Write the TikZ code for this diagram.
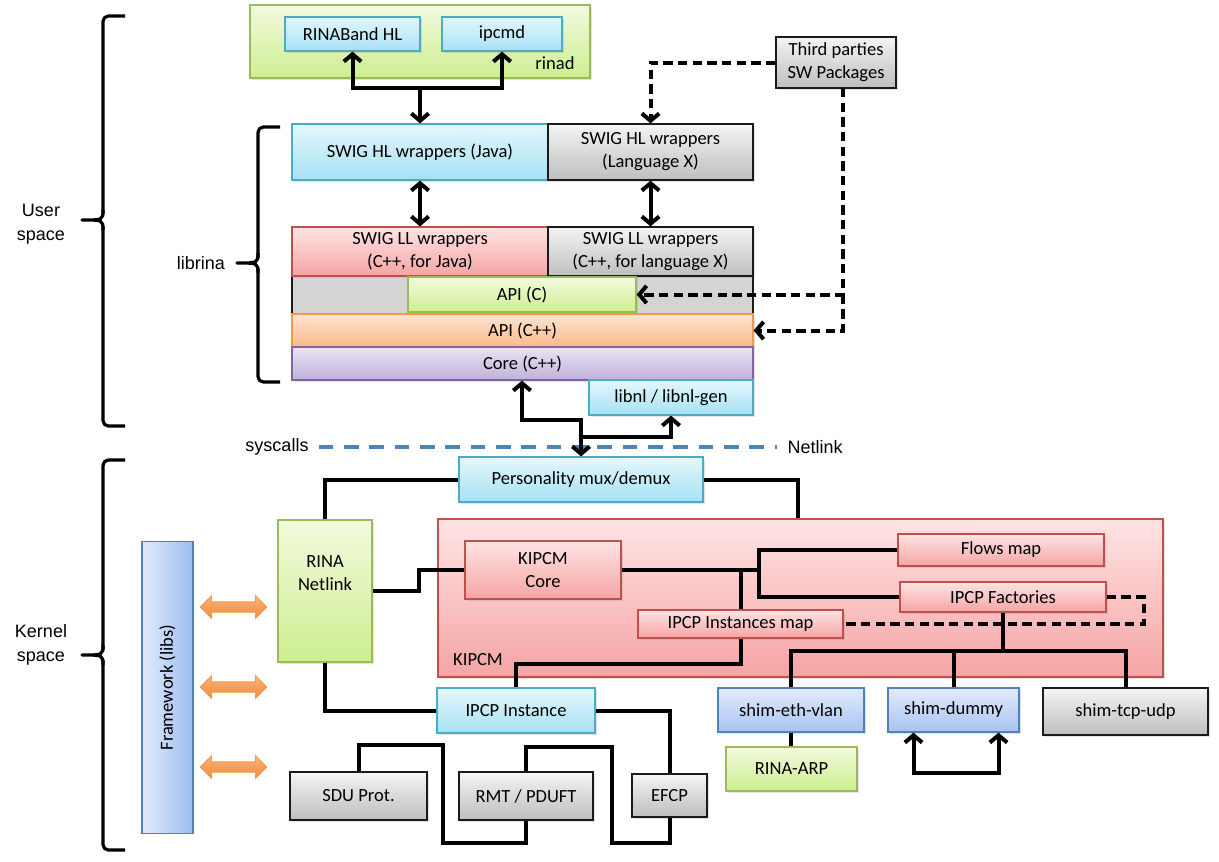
\documentclass[tikz,border=0pt]{standalone}
\usepackage{fontspec}
\setmainfont{Carlito}
\newfontfamily\arialf{Liberation Sans}
\usetikzlibrary{arrows.meta,shadows,shapes.arrows}
\definecolor{cyanT}{HTML}{E4F7FD}
\definecolor{cyanB}{HTML}{A6E1F4}
\definecolor{cyanD}{HTML}{4BACC6}
\definecolor{greenT}{HTML}{F2FADE}
\definecolor{greenB}{HTML}{CEEE90}
\definecolor{greenD}{HTML}{9BBB59}
\definecolor{grayT}{HTML}{F4F4F4}
\definecolor{grayB}{HTML}{BEBEBE}
\definecolor{grayD}{HTML}{1A1A1A}
\definecolor{redT}{HTML}{FFE4E4}
\definecolor{redB}{HTML}{F5A4A4}
\definecolor{redD}{HTML}{C0504D}
\definecolor{oraT}{HTML}{FDE5D2}
\definecolor{oraB}{HTML}{FAB98A}
\definecolor{oraD}{HTML}{F79646}
\definecolor{oraF1}{HTML}{FAB47A}
\definecolor{oraF2}{HTML}{F38A3C}
\definecolor{purT}{HTML}{E9E3F2}
\definecolor{purB}{HTML}{C0B2DB}
\definecolor{purD}{HTML}{8064A2}
\definecolor{bluT}{HTML}{E2EBFC}
\definecolor{bluB}{HTML}{A8C3F1}
\definecolor{bluF}{HTML}{9DBBF2}
\definecolor{bluD}{HTML}{4F81BD}
\definecolor{rowG}{HTML}{D4D4D4}
\newcommand\boxfont{\fontsize{13.9}{17.3}\selectfont}
\newcommand\sidefont{\arialf\fontsize{13.5}{18}\selectfont}
\newcommand\bx[7]{\node[#6, minimum width={(#4-#2)*0.75pt}, minimum height={(#5-#3)*0.75pt}]
  (#1) at ({(#2+#4)/2},{(#3+#5)/2}) {#7};}
\begin{document}
\begin{tikzpicture}[x=0.75pt,y=-0.75pt,
  box/.style={draw, line width=0.9pt, inner sep=0pt, align=center, font=\boxfont,
    drop shadow={shadow xshift=1.3pt, shadow yshift=-1.3pt, opacity=0.22}},
  cyanbox/.style={box, draw=cyanD, top color=cyanT, bottom color=cyanB},
  greenbox/.style={box, draw=greenD, top color=greenT, bottom color=greenB},
  graybox/.style={box, draw=grayD, top color=grayT, bottom color=grayB},
  redbox/.style={box, draw=redD, top color=redT, bottom color=redB},
  orangebox/.style={box, draw=oraD, top color=oraT, bottom color=oraB},
  purplebox/.style={box, draw=purD, top color=purT, bottom color=purB},
  bluebox/.style={box, draw=bluD, top color=bluT, bottom color=bluB},
  rowbox/.style={draw=grayD, line width=0.9pt, fill=rowG, inner sep=0pt},
  fwbox/.style={draw=bluD, line width=0.9pt, left color=bluT, right color=bluF,
    inner sep=0pt, font=\boxfont},
  oarrow/.style={double arrow, draw=oraD, line width=0.6pt, top color=oraF1, bottom color=oraF2,
    minimum height=50pt, minimum width=17pt, double arrow head extend=4.5pt, inner sep=3.6pt},
  lbl/.style={font=\boxfont, inner sep=0pt},
  side/.style={font=\sidefont, align=center, inner sep=0pt},
  conn/.style={line width=3pt, line join=miter, black},
  dconn/.style={conn, dash pattern=on 7pt off 4pt},
  ae/.style={-{Straight Barb[length=5.5pt,width=13pt]}},
  a2/.style={{Straight Barb[length=5.5pt,width=13pt]}-{Straight Barb[length=5.5pt,width=13pt]}},
  brace/.style={line width=2.4pt, black, line join=round},
  bdash/.style={line width=3pt, color=bluD, dash pattern=on 11pt off 8pt}]
\useasboundingbox (0,0) rectangle (1219,861);

% ---------- braces and side labels ----------
\draw[brace, rounded corners=4] (125,16) -- (103,16) -- (103,214);
\draw[brace] (103,210) .. controls (103,220) .. (82,220) .. controls (103,220) .. (103,230);
\draw[brace, rounded corners=4] (103,226) -- (103,426) -- (125,426);
\node[side] (us) at (41,224) {User\\space};

\draw[brace, rounded corners=4] (125,460) -- (103,460) -- (103,650);
\draw[brace] (103,645) .. controls (103,655) .. (82,655) .. controls (103,655) .. (103,665);
\draw[brace, rounded corners=4] (103,660) -- (103,850) -- (125,850);
\node[side] (ks) at (41,645) {Kernel\\space};

\draw[brace, rounded corners=4] (280,127) -- (258,127) -- (258,258);
\draw[brace] (258,253) .. controls (258,263) .. (237,263) .. controls (258,263) .. (258,273);
\draw[brace, rounded corners=4] (258,268) -- (258,382) -- (280,382);
\node[side] (lib) at (201,263) {librina};

% ---------- user space ----------
\bx{rinad}{250}{5}{590}{78}{greenbox}{}
\node[lbl] (rinadlbl) at (555,63) {rinad};
\bx{rinaband}{285}{17}{420}{51}{cyanbox}{RINABand HL}
\bx{ipcmd}{442}{17}{562}{51}{cyanbox}{ipcmd}
\bx{third}{776}{37}{896}{88}{graybox}{Third parties\\SW Packages}

\bx{hlj}{292}{124}{548}{180}{cyanbox}{SWIG HL wrappers (Java)}
\bx{hlx}{548}{124}{753}{180}{graybox}{SWIG HL wrappers\\(Language X)}
\bx{grayrow}{292}{276}{753}{314}{rowbox}{}
\bx{llj}{292}{227}{548}{276}{redbox}{SWIG LL wrappers\\(C++, for Java)}
\bx{llx}{548}{227}{753}{276}{graybox}{SWIG LL wrappers\\(C++, for language X)}
\bx{apic}{408}{277}{636}{312}{greenbox}{API (C)}
\bx{apicpp}{292}{314}{753}{347}{orangebox}{API (C++)}
\bx{core}{292}{347}{753}{380}{purplebox}{Core (C++)}
\bx{libnl}{589}{380}{753}{415}{cyanbox}{libnl / libnl-gen}

% ---------- separator ----------
\node[side] (sys) at (277,447) {syscalls};
\node[side] (nlk) at (815,447) {Netlink};
\draw[bdash] (sys.east) ++(10,0) -- ([xshift=-8pt]nlk.west);

% ---------- kernel ----------
\bx{pers}{459}{457}{703}{502}{cyanbox}{Personality mux/demux}
\bx{kipcm}{438}{519}{1163}{677}{redbox}{}
\node[lbl] (kipcmlbl) at (478,660) {KIPCM};
\bx{rnl}{278}{520}{372}{662}{greenbox,label={[font=\boxfont, align=center, yshift=13.5pt]center:RINA\\Netlink}}{}
\node[fwbox, minimum width=38.25pt, minimum height=219pt] (fw) at (167.5,687.5)
  {\rotatebox{90}{Framework (libs)}};
\node[oarrow] (oa1) at (233.5,607) {};
\node[oarrow] (oa2) at (233.5,687) {};
\node[oarrow] (oa3) at (233.5,767) {};

\bx{kcore}{465}{541}{621}{599}{redbox}{KIPCM\\Core}
\bx{flows}{898}{534}{1104}{566}{redbox}{Flows map}
\bx{fact}{900}{582}{1106}{612}{redbox}{IPCP Factories}
\bx{imap}{638}{610}{843}{638}{redbox}{IPCP Instances map}
\bx{ipi}{437}{688}{595}{733}{cyanbox}{IPCP Instance}
\bx{shev}{718}{688}{864}{732}{bluebox}{shim-eth-vlan}
\bx{shdum}{888}{688}{1019}{732}{bluebox}{shim-dummy}
\bx{shtcp}{1043}{688}{1208}{735}{graybox}{shim-tcp-udp}
\bx{rarp}{726}{747}{857}{791}{greenbox}{RINA-ARP}
\bx{sdu}{290}{772}{427}{820}{graybox}{SDU Prot.}
\bx{rmt}{459}{772}{593}{820}{graybox}{RMT / PDUFT}
\bx{efcp}{632}{774}{707}{817}{graybox}{EFCP}

% ---------- connectors: user space ----------
\coordinate (j1) at (420,88);
\draw[conn, a2] (rinaband.south) |- (j1) -| (ipcmd.south);
\draw[conn, ae] (j1) -- (hlj.north);
\draw[conn, a2] (hlj.south) -- (llj.north -| hlj.south);
\draw[conn, a2] (hlx.south) -- (llx.north -| hlx.south);
\draw[dconn, ae] (third.west) -| (hlx.north);
\coordinate (tp) at (843,88);
\draw[dconn, ae] (tp) |- (apic.east);
\draw[dconn, ae] (apic.east -| tp) |- (apicpp.east);

\coordinate (cx) at (522,420);
\draw[conn, a2] (cx |- core.south) -- (cx) -| (pers.north);
\coordinate (jb) at (581,437);
\draw[conn, ae] (jb) -| (libnl.south);

% ---------- connectors: kernel ----------
\coordinate (kt) at (798,0);
\draw[conn] (pers.west) -| (rnl.north);
\draw[conn] (pers.east) -| (kt |- kipcm.north);
\draw[conn] (rnl.east) -- ++(46,0) |- (kcore.west);
\coordinate (jk) at (759,570);
\draw[conn] (kcore.east) -- (jk);
\draw[conn] (flows.west) -| (jk) |- (fact.west);
\draw[conn] (imap.north) -- (imap.north |- kcore.east);
\draw[conn] (imap.south) -- ++(0,25) -| (ipi.north);
\draw[dconn] (fact.east) -- ++(37,0) |- (imap.east);
\draw[conn] (fact.south) -- ++(0,38) coordinate (jf);
\draw[conn] (shev.north) |- (jf) -| (shtcp.north);
\draw[conn] (shdum.north) -- (shdum.north |- jf);
\draw[conn] (shev.south) -- (shev.south |- rarp.north);
\path (shdum.south) ++(-40,0) coordinate (sd1) (shdum.south) ++(45,0) coordinate (sd2);
\draw[conn, a2] (sd1) -- ++(0,40) -| (sd2);

\draw[conn] (rnl.south) |- (ipi.west);
\draw[conn] (ipi.east) -| (efcp.north);
\draw[conn] (sdu.north) |- (443,745) -- (443,843) -| (rmt.south);
\draw[conn] (rmt.north) |- (612,747) -- (612,843) -| (efcp.south);
\end{tikzpicture}
\end{document}
